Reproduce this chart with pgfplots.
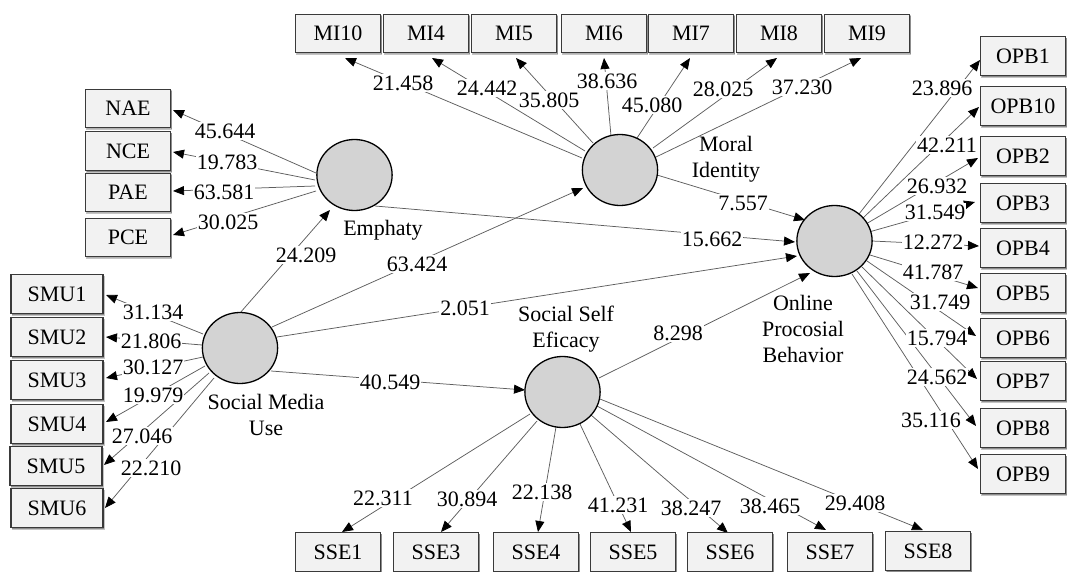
\documentclass[border=0pt]{standalone}
\usepackage{pgfplots}
\pgfplotsset{compat=1.18}
\usepackage{pgfplotstable}
\usepackage{fontspec}
\setmainfont{Liberation Serif}
\usetikzlibrary{arrows.meta,shadows}
\definecolor{boxfill}{HTML}{F2F2F2}
\definecolor{boxdraw}{HTML}{3A3A3A}
\definecolor{circfill}{HTML}{D3D3D3}
\definecolor{linec}{HTML}{5E5E5E}

% indicator boxes (pixel coordinates, y downward)
\pgfplotstableread{
x y label
128 108.5 NAE
128 151 NCE
128 192.5 PAE
128 237.5 PCE
338 33.5 MI10
426 33.5 MI4
514 33.5 MI5
604 33.5 MI6
691 33.5 MI7
779 33.5 MI8
867 33.5 MI9
1023 56 OPB1
1023 106 OPB10
1023 156 OPB2
1023 203 OPB3
1023 248 OPB4
1023 293 OPB5
1023 338 OPB6
1023 381 OPB7
1023 428 OPB8
1023 474 OPB9
338 552 SSE1
436 552 SSE3
536 552 SSE4
633 552 SSE5
730 552 SSE6
830 552 SSE7
928 551 SSE8
}\boxes

\pgfplotstableread{
x y label
57 294 SMU1
57 337 SMU2
57 380 SMU3
57 424 SMU4
56 466 SMU5
57 508 SMU6
}\smuboxes

% path coefficients (label centres)
\pgfplotstableread{
x y label
225 131 45.644
227 162 19.783
224 192 63.581
228 222 30.025
153 312 31.134
151 341 21.806
153 367 30.127
153 395 19.979
142 436 27.046
151 468 22.210
403 83 21.458
487 88 24.442
549 100 35.805
607 81 38.636
652 105 45.080
723 89 28.025
802 87 37.230
942 88 23.896
947 145 42.211
937 186 26.932
935 212 31.549
933 242 12.272
933 272 41.787
940 302 31.749
937 338 15.794
937 377 24.562
931 420 35.116
383 498 22.311
467 499 30.894
542 492 22.138
618 505 41.231
691 508 38.247
770 506 38.465
855 503 29.408
306 255 24.209
417 264 63.424
465 308 2.051
390 382 40.549
712 239 15.662
743 203 7.557
678 333 8.298
}\coefs

\pgfplotsset{
  arr/.style={draw=linec, line width=0.75pt, mark=none,
    -{Triangle[length=11pt,width=9pt,color=black]}},
}

\begin{document}
\begin{tikzpicture}[font=\fontsize{22}{26}\selectfont]
\useasboundingbox (0,0) rectangle (1069pt,572pt);
\begin{axis}[
  scale only axis, width=1069pt, height=572pt,
  xmin=0, xmax=1069, ymin=0, ymax=572, y dir=reverse,
  hide axis, clip=false,
]
% Emphaty indicators
\addplot[arr] coordinates {(316,173) (173,110)};
\addplot[arr] coordinates {(315,180) (173,152)};
\addplot[arr] coordinates {(315,186) (173,191)};
\addplot[arr] coordinates {(316,191) (173,235)};
% SMU indicators
\addplot[arr] coordinates {(203,334) (106,295)};
\addplot[arr] coordinates {(202,345) (106,337)};
\addplot[arr] coordinates {(203,357) (106,378)};
\addplot[arr] coordinates {(205,366) (106,422)};
\addplot[arr] coordinates {(209,373) (104,465)};
\addplot[arr] coordinates {(214,378) (105,508)};
% MI indicators
\addplot[arr] coordinates {(582,158) (345,58)};
\addplot[arr] coordinates {(585,151) (432,58)};
\addplot[arr] coordinates {(593,143) (516,58)};
\addplot[arr] coordinates {(611,136) (604,58)};
\addplot[arr] coordinates {(637,138) (690,58)};
\addplot[arr] coordinates {(653,148) (777,58)};
\addplot[arr] coordinates {(656,157) (861,58)};
% OPB indicators
\addplot[arr] coordinates {(859,214) (980,60)};
\addplot[arr] coordinates {(863,218) (979,107)};
\addplot[arr] coordinates {(866,224) (978,158)};
\addplot[arr] coordinates {(869,232) (975,202)};
\addplot[arr] coordinates {(872,241) (979,246)};
\addplot[arr] coordinates {(870,255) (978,288)};
\addplot[arr] coordinates {(867,261) (976,336)};
\addplot[arr] coordinates {(862,267) (977,379)};
\addplot[arr] coordinates {(857,271) (976,426)};
\addplot[arr] coordinates {(852,274) (978,469)};
% SSE indicators
\addplot[arr] coordinates {(530,414) (342,532)};
\addplot[arr] coordinates {(537,421) (441,532)};
\addplot[arr] coordinates {(556,427) (538,532)};
\addplot[arr] coordinates {(580,424) (631,532)};
\addplot[arr] coordinates {(591,415) (728,533)};
\addplot[arr] coordinates {(597,406) (826,530)};
\addplot[arr] coordinates {(600,399) (923,530)};
% structural paths
\addplot[arr] coordinates {(240,313) (330,210)};
\addplot[arr] coordinates {(272,327) (583,188)};
\addplot[arr] coordinates {(277,337) (797,256)};
\addplot[arr] coordinates {(271,371) (525,390)};
\addplot[arr] coordinates {(375,206) (795,242)};
\addplot[arr] coordinates {(657,175) (805,220)};
\addplot[arr] coordinates {(599,378) (810,273)};
% latent variables
\addplot[only marks, mark=*, mark size=35.5pt,
  mark options={xscale=1.06, fill=circfill, draw=black, line width=1.3pt}]
  coordinates {(354.5,175) (620,170) (834.5,241) (240,348) (562.5,392)};
% indicator boxes
\addplot[only marks, mark=none, nodes near coords, point meta=explicit symbolic,
  every node near coord/.append style={anchor=center, draw=boxdraw, fill=boxfill,
    line width=1.4pt, minimum width=85pt, minimum height=38.5pt, inner sep=0pt,
    drop shadow={shadow xshift=1.2pt, shadow yshift=-1.6pt, fill=black, opacity=0.3}}]
  table[x=x, y=y, meta=label] {\boxes};
\addplot[only marks, mark=none, nodes near coords, point meta=explicit symbolic,
  every node near coord/.append style={anchor=center, draw=boxdraw, fill=boxfill,
    line width=1.4pt, minimum width=92pt, minimum height=38.5pt, inner sep=0pt,
    drop shadow={shadow xshift=1.2pt, shadow yshift=-1.6pt, fill=black, opacity=0.3}}]
  table[x=x, y=y, meta=label] {\smuboxes};
% coefficients
\addplot[only marks, mark=none, nodes near coords, point meta=explicit symbolic,
  every node near coord/.append style={anchor=center, fill=white, inner sep=1.2pt}]
  table[x=x, y=y, meta=label] {\coefs};
% latent names
\node[align=center] at (383,230) {Emphaty};
\node[align=center] at (726,159) {Moral\\Identity};
\node[align=center] at (566,329) {Social Self\\Eficacy};
\node[align=center] at (803,329) {Online\\Procosial\\Behavior};
\node[align=center] at (266,415) {Social Media\\Use};
\end{axis}
\end{tikzpicture}
\end{document}
